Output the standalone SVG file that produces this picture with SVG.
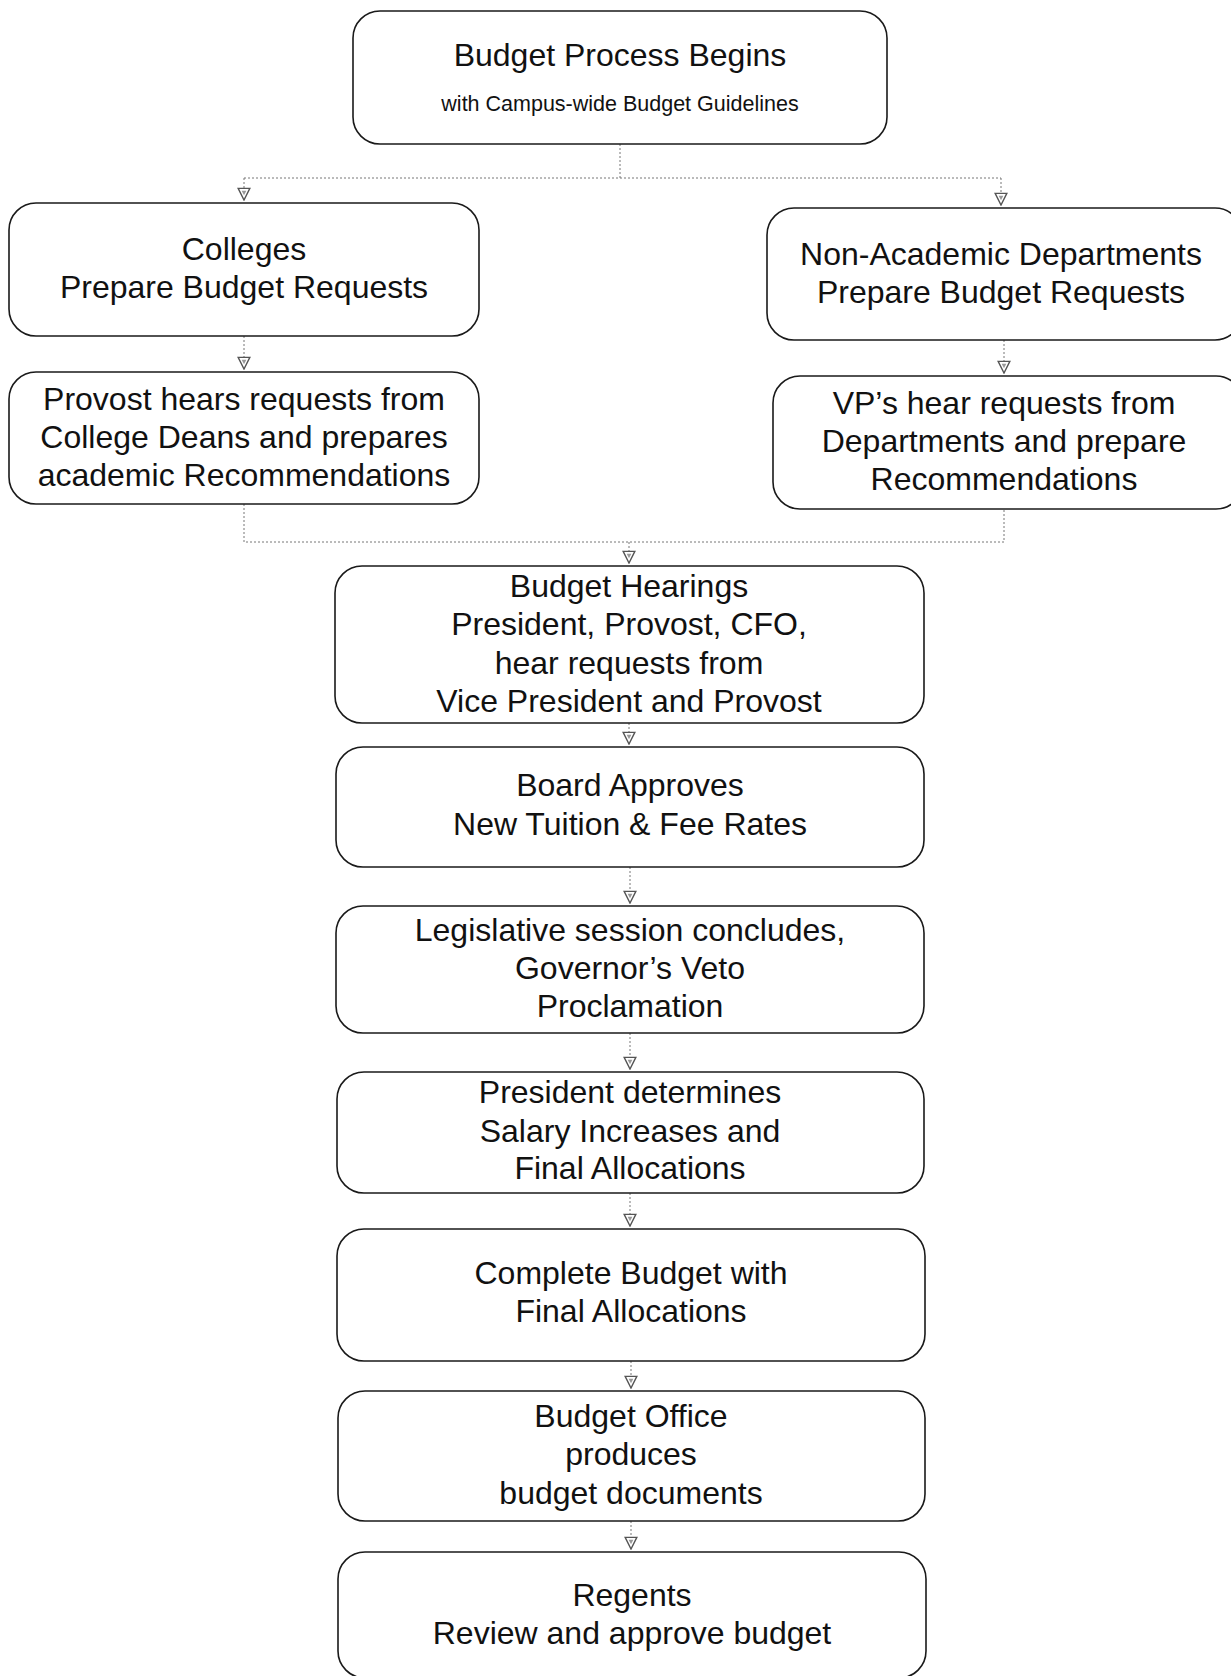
<svg xmlns="http://www.w3.org/2000/svg" width="1231" height="1676" viewBox="0 0 1231 1676">
<style>
.box{fill:#fff;stroke:#1a1a1a;stroke-width:1.6}
.t{font-family:"Liberation Sans",Arial,sans-serif;font-size:32px;fill:#111;text-anchor:middle}
.s{font-size:21.5px}
.c{fill:none;stroke:#777;stroke-width:1;stroke-dasharray:2 2}
</style>
<defs>
<marker id="ah" markerUnits="userSpaceOnUse" markerWidth="14" markerHeight="14" refX="6" refY="11" orient="0" viewBox="0 0 12 12">
<path d="M1,1 L11,1 L6,11 Z" fill="#fff" stroke="#555" stroke-width="1.2"/>
<path d="M4,3 L8,3 L6,7 Z" fill="#999"/>
</marker>
</defs>
<g id="connectors">
<path class="c" d="M620,144 V178 M244,178 H1001"/>
<path class="c" d="M244,178 V200" marker-end="url(#ah)"/>
<path class="c" d="M1001,178 V205" marker-end="url(#ah)"/>
<path class="c" d="M244,336 V369" marker-end="url(#ah)"/>
<path class="c" d="M1004,340 V373" marker-end="url(#ah)"/>
<path class="c" d="M244,504 V542 H1004 V509"/>
<path class="c" d="M629,542 V563" marker-end="url(#ah)"/>
<path class="c" d="M629,723 V744" marker-end="url(#ah)"/>
<path class="c" d="M630,867 V903" marker-end="url(#ah)"/>
<path class="c" d="M630,1033 V1069" marker-end="url(#ah)"/>
<path class="c" d="M630,1193 V1226" marker-end="url(#ah)"/>
<path class="c" d="M631,1361 V1388" marker-end="url(#ah)"/>
<path class="c" d="M631,1521 V1549" marker-end="url(#ah)"/>
</g>
<g id="n-start">
<rect class="box" x="353" y="11" width="534" height="133" rx="27"/>
<text class="t" x="620" y="66">Budget Process Begins</text>
<text class="t s" x="620" y="111">with Campus-wide Budget Guidelines</text>
</g>
<g id="n-colleges">
<rect class="box" x="9" y="203" width="470" height="133" rx="27"/>
<text class="t" x="244" y="260">Colleges</text>
<text class="t" x="244" y="298">Prepare Budget Requests</text>
</g>
<g id="n-provost">
<rect class="box" x="9" y="372" width="470" height="132" rx="27"/>
<text class="t" x="244" y="410">Provost hears requests from</text>
<text class="t" x="244" y="448">College Deans and prepares</text>
<text class="t" x="244" y="486">academic Recommendations</text>
</g>
<g id="n-nonacademic">
<rect class="box" x="767" y="208" width="475" height="132" rx="27"/>
<text class="t" x="1001" y="265">Non-Academic Departments</text>
<text class="t" x="1001" y="303">Prepare Budget Requests</text>
</g>
<g id="n-vps">
<rect class="box" x="773" y="376" width="470" height="133" rx="27"/>
<text class="t" x="1004" y="414">VP’s hear requests from</text>
<text class="t" x="1004" y="452">Departments and prepare</text>
<text class="t" x="1004" y="490">Recommendations</text>
</g>
<g id="n-hearings">
<rect class="box" x="335" y="566" width="589" height="157" rx="27"/>
<text class="t" x="629" y="597">Budget Hearings</text>
<text class="t" x="629" y="635">President, Provost, CFO,</text>
<text class="t" x="629" y="674">hear requests from</text>
<text class="t" x="629" y="712">Vice President and Provost</text>
</g>
<g id="n-board">
<rect class="box" x="336" y="747" width="588" height="120" rx="27"/>
<text class="t" x="630" y="796">Board Approves</text>
<text class="t" x="630" y="835">New Tuition &amp; Fee Rates</text>
</g>
<g id="n-legislative">
<rect class="box" x="336" y="906" width="588" height="127" rx="27"/>
<text class="t" x="630" y="941">Legislative session concludes,</text>
<text class="t" x="630" y="979">Governor’s Veto</text>
<text class="t" x="630" y="1017">Proclamation</text>
</g>
<g id="n-president">
<rect class="box" x="337" y="1072" width="587" height="121" rx="27"/>
<text class="t" x="630" y="1103">President determines</text>
<text class="t" x="630" y="1142">Salary Increases and</text>
<text class="t" x="630" y="1179">Final Allocations</text>
</g>
<g id="n-complete">
<rect class="box" x="337" y="1229" width="588" height="132" rx="27"/>
<text class="t" x="631" y="1284">Complete Budget with</text>
<text class="t" x="631" y="1322">Final Allocations</text>
</g>
<g id="n-office">
<rect class="box" x="338" y="1391" width="587" height="130" rx="27"/>
<text class="t" x="631" y="1427">Budget Office</text>
<text class="t" x="631" y="1465">produces</text>
<text class="t" x="631" y="1504">budget documents</text>
</g>
<g id="n-regents">
<rect class="box" x="338" y="1552" width="588" height="126" rx="27"/>
<text class="t" x="632" y="1606">Regents</text>
<text class="t" x="632" y="1644">Review and approve budget</text>
</g>
</svg>
